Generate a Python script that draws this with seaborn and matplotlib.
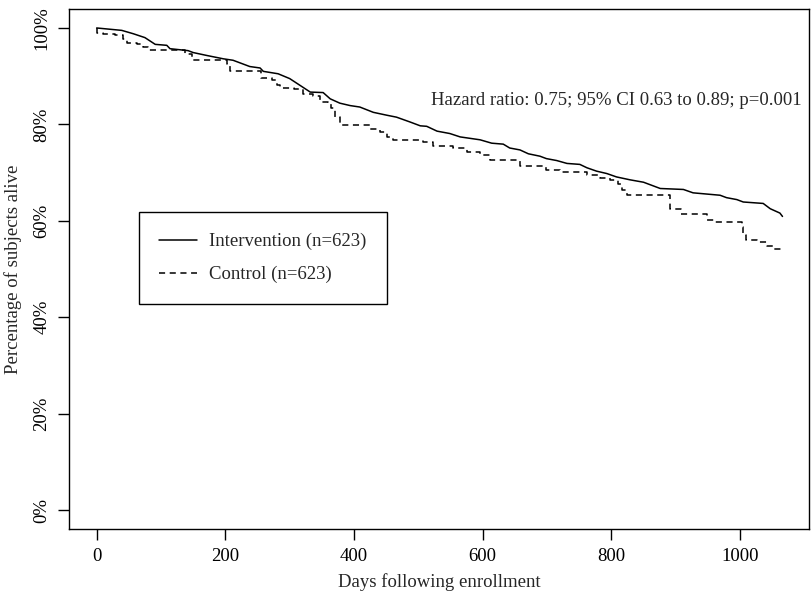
import pandas as pd
import matplotlib.pyplot as plt
import seaborn as sns
from matplotlib.ticker import PercentFormatter

# Kaplan-Meier style survival curves
intervention_days = [0, 39, 57, 75, 91, 109, 114, 142, 150, 171, 197, 212, 238, 254, 259,
                     282, 300, 316, 332, 352, 363, 378, 394, 409, 430, 451, 466, 487, 503,
                     513, 529, 549, 565, 596, 614, 632, 642, 658, 671, 689, 699, 715, 731,
                     751, 762, 777, 793, 808, 829, 850, 876, 912, 927, 969, 979, 995, 1005,
                     1036, 1047, 1062, 1066]
intervention_surv = [1.000, 0.995, 0.988, 0.980, 0.966, 0.964, 0.957, 0.953, 0.949, 0.943,
                     0.936, 0.933, 0.920, 0.917, 0.910, 0.905, 0.895, 0.881, 0.867, 0.866,
                     0.853, 0.844, 0.839, 0.836, 0.825, 0.819, 0.815, 0.805, 0.797, 0.796,
                     0.786, 0.781, 0.774, 0.768, 0.761, 0.759, 0.751, 0.747, 0.739, 0.734,
                     0.729, 0.725, 0.719, 0.717, 0.710, 0.703, 0.698, 0.691, 0.685, 0.680,
                     0.667, 0.665, 0.658, 0.653, 0.648, 0.644, 0.639, 0.636, 0.625, 0.616,
                     0.609]

control_days = [0, 1, 10, 28, 41, 47, 62, 72, 80, 137, 148, 202, 207, 256, 272, 280, 285,
                306, 321, 337, 347, 360, 365, 370, 378, 425, 440, 451, 461, 508, 523, 554,
                575, 596, 611, 658, 699, 720, 762, 783, 798, 811, 816, 824, 891, 909, 948,
                961, 1003, 1005, 1010, 1026, 1042, 1052, 1066]
control_surv = [1.000, 0.990, 0.987, 0.985, 0.978, 0.969, 0.966, 0.960, 0.955, 0.947, 0.933,
                0.926, 0.910, 0.897, 0.893, 0.881, 0.875, 0.873, 0.864, 0.858, 0.846, 0.843,
                0.833, 0.815, 0.798, 0.791, 0.784, 0.774, 0.767, 0.763, 0.756, 0.750, 0.743,
                0.737, 0.727, 0.713, 0.706, 0.701, 0.694, 0.689, 0.684, 0.677, 0.663, 0.653,
                0.625, 0.615, 0.601, 0.598, 0.587, 0.570, 0.561, 0.556, 0.547, 0.542, 0.537]

groups = ["Intervention (n=623)", "Control (n=623)"]

df_int = pd.DataFrame({"Days": intervention_days, "Survival": intervention_surv})
df_ctl = pd.DataFrame({"Days": control_days, "Survival": control_surv})

sns.set_theme(style="ticks")
plt.rcParams["font.family"] = ["Liberation Serif", "DejaVu Serif"]
plt.rcParams["axes.edgecolor"] = "black"
plt.rcParams["axes.linewidth"] = 1.0

fig = plt.figure(figsize=(8.12, 5.95), dpi=100)
ax = fig.add_axes([0.0853, 0.1104, 0.9114, 0.875])

sns.lineplot(data=df_int, x="Days", y="Survival", color="black", linewidth=1.1,
             estimator=None, label=groups[0], ax=ax)
sns.lineplot(data=df_ctl, x="Days", y="Survival", color="black", linewidth=1.1,
             estimator=None, drawstyle="steps-post", dashes=False, linestyle=(0, (4, 3)),
             label=groups[1], ax=ax)

ax.set_xlim(-42.6, 1107.7)
ax.set_ylim(-0.04, 1.04)
ax.set_xticks([0, 200, 400, 600, 800, 1000])
ax.set_yticks([0, 0.2, 0.4, 0.6, 0.8, 1.0])
ax.yaxis.set_major_formatter(PercentFormatter(1.0, decimals=0))
ax.tick_params(axis="both", direction="out", length=8, width=1, color="black",
               labelsize=13.5, pad=5.5, labelcolor="black")
for lab in ax.get_yticklabels():
    lab.set_rotation(90)
    lab.set_va("center")

ax.set_xlabel("Days following enrollment", fontsize=13.5, labelpad=6)
ax.set_ylabel("Percentage of subjects alive", fontsize=13.5, labelpad=8)

ax.text(807, 0.85, "Hazard ratio: 0.75; 95% CI 0.63 to 0.89; p=0.001",
        ha="center", va="center", fontsize=13.5)

leg = ax.legend(loc="upper left", bbox_to_anchor=(0.094, 0.437, 0.335, 0.172),
                mode="expand", borderaxespad=0, fontsize=13.5, frameon=True,
                fancybox=False, edgecolor="black", framealpha=1, handlelength=2.0,
                handletextpad=0.65, borderpad=1.1, labelspacing=0.85)
leg.get_frame().set_linewidth(1.0)

fig.savefig("out.png", dpi=100)
